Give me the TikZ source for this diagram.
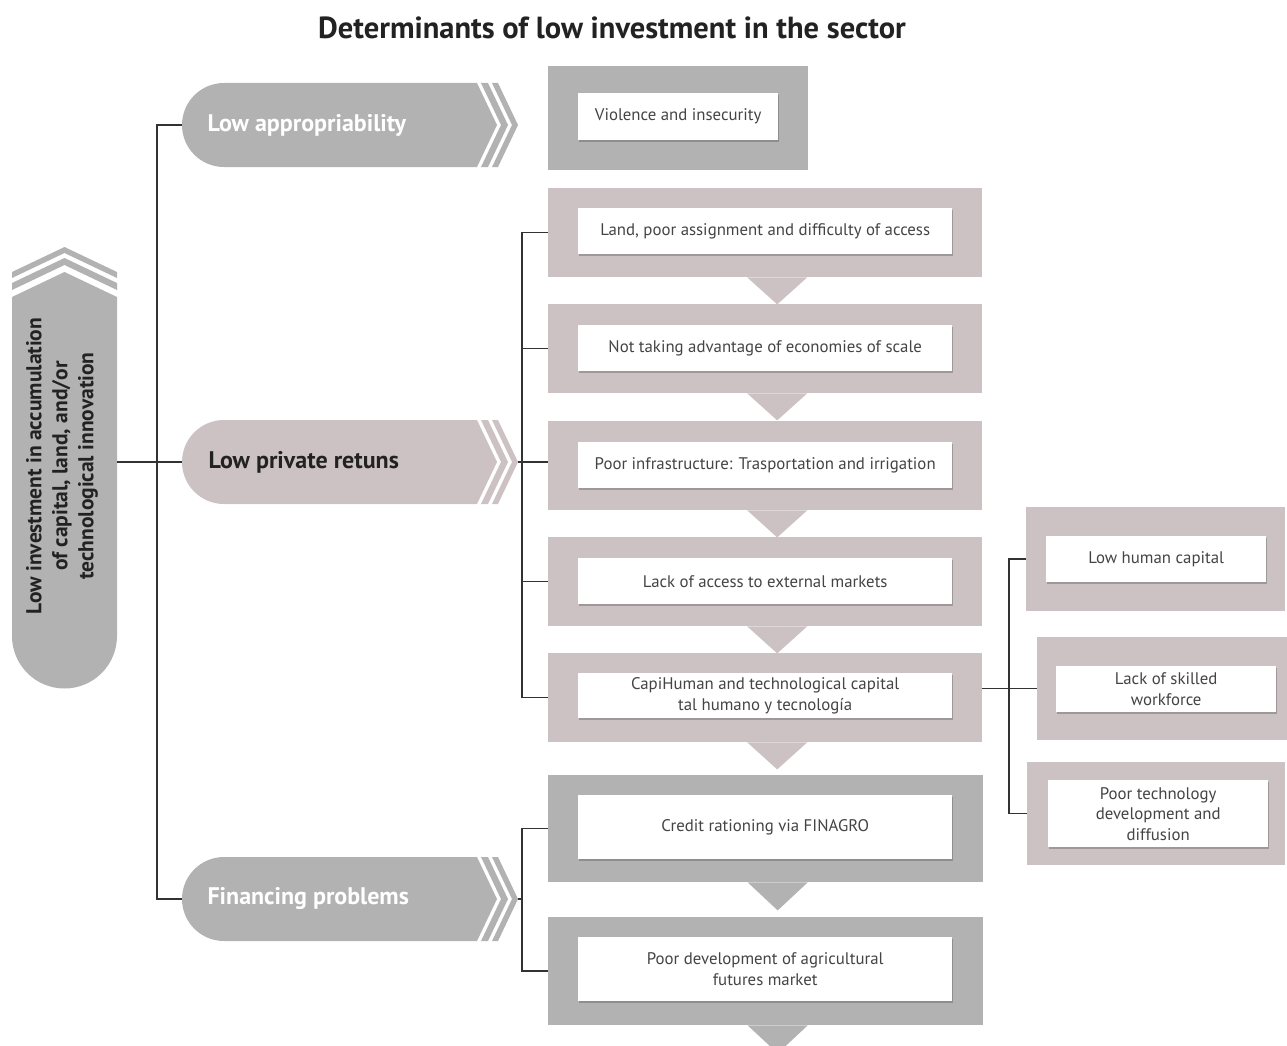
\documentclass[tikz,border=0pt]{standalone}
\usepackage{fontspec}
\setmainfont{PT Sans}
\usetikzlibrary{shadows,calc}
\definecolor{gA}{RGB}{178,178,178}
\definecolor{mv}{RGB}{204,194,195}
\definecolor{tx}{RGB}{68,68,68}
\definecolor{ln}{RGB}{50,50,50}
\definecolor{dk}{RGB}{34,34,34}
\newcommand\hpill[4]{% #1 left x, #2 center y, #3 colour, #4 body end x
  \fill[#3] (#1+42,#2-42) -- (#4,#2-42) -- (#4+20,#2) -- (#4,#2+42) -- (#1+42,#2+42)
     arc[start angle=270,end angle=90,radius=42pt] -- cycle;
  \fill[#3] (#4+4,#2-42) -- (#4+24,#2) -- (#4+4,#2+42) -- (#4+11,#2+42) -- (#4+31,#2) -- (#4+11,#2-42) -- cycle;
  \fill[#3] (#4+15,#2-42) -- (#4+35,#2) -- (#4+15,#2+42) -- (#4+21,#2+42) -- (#4+41,#2) -- (#4+21,#2-42) -- cycle;
}
\begin{document}
\begin{tikzpicture}[x=1pt,y=-1pt,
  outer/.style={fill=#1,inner sep=0pt,anchor=north west},
  inner/.style={fill=white,inner sep=2pt,anchor=north west,text=tx,align=center,
     font=\fontsize{16.8}{20.5}\selectfont,minimum width=374pt,minimum height=46pt,
     drop shadow={shadow xshift=1pt,shadow yshift=-2pt,opacity=0.35,fill=black!70}},
  hold/.style={inner sep=0pt,minimum width=336pt,minimum height=84pt},
  pilltext/.style={anchor=west,font=\fontsize{24}{28}\selectfont\bfseries},
  conn/.style={draw=ln,line width=1.5pt},
  tri/.style={fill=#1}]
\path[use as bounding box] (0,0) rectangle (1287,1046);

% title
\node[font=\fontsize{30.5}{34}\selectfont\bfseries,text=dk] (title) at (612,28) {Determinants of low investment in the sector};

% root vertical pill
\fill[gA] (12,297) -- (64.5,272) -- (117,297) -- (117,636)
   arc[start angle=0,end angle=-180,radius=52.5pt] -- cycle;
\fill[gA] (12,290) -- (64.5,265) -- (117,290) -- (117,283) -- (64.5,258) -- (12,283) -- cycle;
\fill[gA] (12,278) -- (64.5,253) -- (117,278) -- (117,272) -- (64.5,247) -- (12,272) -- cycle;
\node[inner sep=0pt,minimum width=105pt,minimum height=440pt] (rootshape) at (64.5,468) {};
\node[rotate=90,align=center,text=dk,font=\fontsize{21.5}{26}\selectfont\bfseries] (roottext) at (62,466)
  {Low investment in accumulation\\of capital, land, and/or\\technological innovation};

% pills
\hpill{182}{125}{gA}{477}
\hpill{182}{462}{mv}{477}
\hpill{182}{899}{gA}{477}
\node[hold] (pa) at (350,125) {};
\node[hold] (pr) at (350,462) {};
\node[hold] (pf) at (350,899) {};
\node[pilltext,text=white] (pat) at (204,125) {Low appropriability};
\node[pilltext,text=dk] (prt) at (205,462) {Low private retuns};
\node[pilltext,text=white] (pft) at (204,899) {Financing problems};

% violence
\node[outer=gA,minimum width=260pt,minimum height=104pt] (v) at (548,66) {};
\node[inner,minimum width=200pt,minimum height=47pt] (vi) at (578,93) {Violence and insecurity};

% private returns column
\foreach \n/\t in {b1/188,b2/304,b3/421,b4/537,b5/653}{
  \node[outer=mv,minimum width=434pt,minimum height=89pt] (\n) at (548,\t) {};
  \fill[mv] ($(\n.south)+(-18,0)$) -- ($(\n.south)+(42,0)$) -- ($(\n.south)+(12,27)$) -- cycle;
}
\node[inner] (b1i) at (578,208) {Land, poor assignment and difficulty of access};
\node[inner] (b2i) at (578,325) {Not taking advantage of economies of scale};
\node[inner] (b3i) at (578,442) {Poor infrastructure: Trasportation and irrigation};
\node[inner] (b4i) at (578,558) {Lack of access to external markets};
\node[inner,minimum height=45pt] (b5i) at (578,673) {CapiHuman and technological capital\\tal humano y tecnología};

% financing column
\node[outer=gA,minimum width=435pt,minimum height=107pt] (f1) at (548,775) {};
\node[outer=gA,minimum width=435pt,minimum height=108pt] (f2) at (548,917) {};
\fill[gA] ($(f1.south)+(-18,0)$) -- ($(f1.south)+(42,0)$) -- ($(f1.south)+(12,28)$) -- cycle;
\fill[gA] ($(f2.south)+(-18,0)$) -- ($(f2.south)+(42,0)$) -- ($(f2.south)+(12,28)$) -- cycle;
\node[inner,minimum height=64pt] (f1i) at (578,795) {Credit rationing via FINAGRO};
\node[inner,minimum height=64pt] (f2i) at (578,937) {Poor development of agricultural\\futures market};

% right column
\node[outer=mv,minimum width=259pt,minimum height=104pt] (ra) at (1026,507) {};
\node[outer=mv,minimum width=250pt,minimum height=103pt] (rb) at (1037,637) {};
\node[outer=mv,minimum width=258pt,minimum height=103pt] (rc) at (1027,762) {};
\node[inner,minimum width=220pt,minimum height=46pt] (rai) at (1046,536) {Low human capital};
\node[inner,minimum width=220pt,minimum height=46pt] (rbi) at (1056,666) {Lack of skilled\\workforce};
\node[inner,minimum width=220pt,minimum height=67pt] (rci) at (1048,780) {Poor technology\\development and\\diffusion};

% connectors
\draw[conn] (pa.west) -- ++(-25,0) |- (pf.west);
\draw[conn] (rootshape.east |- pr.west) -- (pr.west);
\draw[conn] (b1.west) -- ++(-26,0) |- (b5.west);
\draw[conn] (b2.west) -- ++(-26,0);
\draw[conn] (b4.west) -- ++(-26,0);
\draw[conn] (pr.east) -- (pr.east -| b3.west);
\draw[conn] (f1.west) -- ++(-26,0) |- (f2.west);
\draw[conn] (pf.east) -- ++(4,0);
\draw[conn] (ra.west) -- ++(-17,0) |- (rc.west);
\draw[conn] (b5.east |- rb.west) -- (rb.west);
\end{tikzpicture}
\end{document}
